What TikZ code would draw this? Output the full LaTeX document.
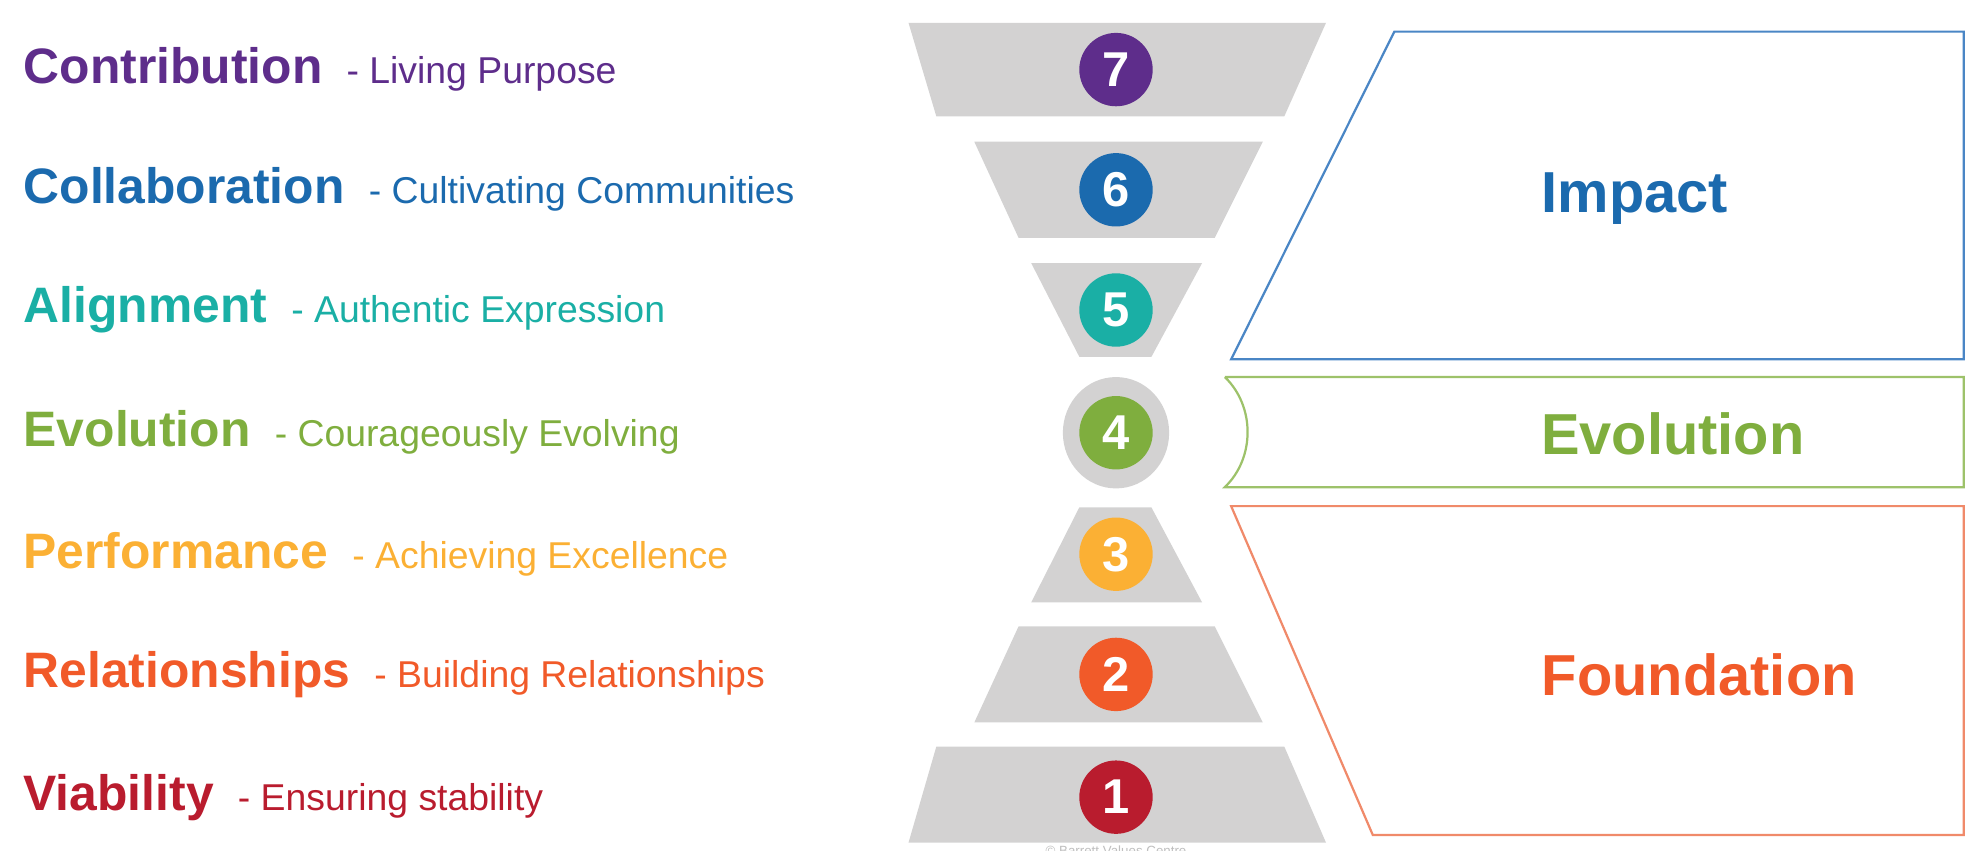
\documentclass[tikz,border=0pt]{standalone}
\usepackage{fontspec}
\setmainfont{Liberation Sans}
\usetikzlibrary{positioning}
\definecolor{cvseven}{HTML}{5E2D8B}
\definecolor{cvsix}{HTML}{1B6AAE}
\definecolor{cvfive}{HTML}{1AAFA5}
\definecolor{cvfour}{HTML}{7FAE3E}
\definecolor{cvthree}{HTML}{FBB034}
\definecolor{cvtwo}{HTML}{F15A29}
\definecolor{cvone}{HTML}{B91C2E}
\definecolor{stepgray}{HTML}{D3D2D2}
\definecolor{impactblue}{HTML}{4A86C5}
\definecolor{evolgreen}{HTML}{9DC26A}
\definecolor{foundorange}{HTML}{F08A6A}
\newcommand{\subtext}{\fontsize{8.4}{10}\selectfont}

\begin{document}
\begin{tikzpicture}[x=0.1mm, y=-0.1mm,
    stair/.style={fill=stepgray, draw=none},
    num/.style={circle, minimum size=5.8mm, inner sep=0pt, text=white, font=\fontsize{11}{11}\selectfont\bfseries},
    level/.style={anchor=west, inner sep=0pt, font=\fontsize{11.2}{12}\selectfont},
    group/.style={font=\fontsize{13}{14}\selectfont\bfseries},
]
\useasboundingbox (0,0) rectangle (1568,672);

% grey steps
\fill[stair] (718,18) -- (1048,18) -- (1015,92) -- (740,92) -- cycle;
\fill[stair] (770,112) -- (998,112) -- (960,188) -- (805,188) -- cycle;
\fill[stair] (815,208) -- (950,208) -- (910,282) -- (853,282) -- cycle;
\fill[stair] (882,342) ellipse (42 and 44);
\fill[stair] (853,401) -- (910,401) -- (950,476) -- (815,476) -- cycle;
\fill[stair] (805,495) -- (960,495) -- (998,571) -- (770,571) -- cycle;
\fill[stair] (740,590) -- (1015,590) -- (1048,666) -- (718,666) -- cycle;

% numbered circles and levels
\foreach \n/\y/\c/\name/\desc in {
    7/55/cvseven/Contribution/Living Purpose,
    6/150/cvsix/Collaboration/Cultivating Communities,
    5/245/cvfive/Alignment/Authentic Expression,
    4/342/cvfour/Evolution/Courageously Evolving,
    3/438/cvthree/Performance/Achieving Excellence,
    2/533/cvtwo/Relationships/Building Relationships,
    1/630/cvone/Viability/Ensuring stability} {
  \node[num, fill=\c] (n\n) at (882,\y) {\n};
  \node[level, text=\c] (l\n) at (18,\y) {\textbf{\name} {\subtext\ - \desc}};
}

% groups
\draw[impactblue, line width=0.5pt] (1102,25) -- (1552,25) -- (1552,284) -- (973,284) -- cycle;
\node[group, text=cvsix] (impact) at (1292,157) {Impact};

\draw[evolgreen, line width=0.5pt] (968,298) -- (1552,298) -- (1552,385) -- (968,385)
    .. controls (992,362) and (992,321) .. (968,298);
\node[group, text=cvfour] (evolution) at (1322,343) {Evolution};

\draw[foundorange, line width=0.5pt] (973,400) -- (1552,400) -- (1552,660) -- (1085,660) -- cycle;
\node[group, text=cvtwo] (foundation) at (1343,533) {Foundation};

\node[font=\fontsize{3}{3}\selectfont, text=black!25] (copy) at (882,672) {© Barrett Values Centre};
\end{tikzpicture}
\end{document}
